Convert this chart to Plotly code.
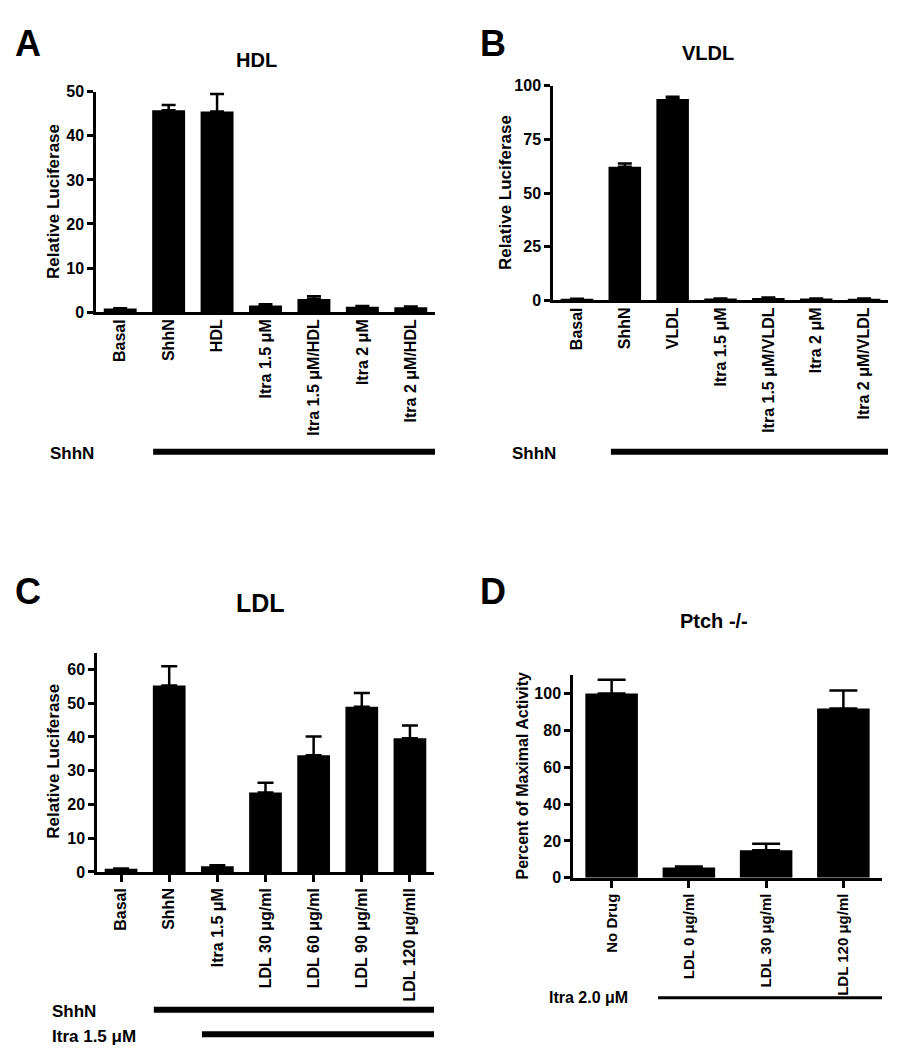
import plotly.graph_objects as go

# ---------------- data ----------------
a_cats = ["Basal", "ShhN", "HDL", "Itra 1.5 μM", "Itra 1.5 μM/HDL", "Itra 2 μM", "Itra 2 μM/HDL"]
a_vals = [0.8, 45.8, 45.5, 1.5, 3.0, 1.2, 1.1]
a_errs = [0.1, 1.2, 4.0, 0.3, 0.6, 0.2, 0.2]

b_cats = ["Basal", "ShhN", "VLDL", "Itra 1.5 μM", "Itra 1.5 μM/VLDL", "Itra 2 μM", "Itra 2 μM/VLDL"]
b_vals = [0.6, 62.3, 93.9, 0.8, 1.1, 0.8, 0.7]
b_errs = [0.1, 1.5, 1.0, 0.1, 0.2, 0.1, 0.1]

c_cats = ["Basal", "ShhN", "Itra 1.5 μM", "LDL 30 μg/ml", "LDL 60 μg/ml", "LDL 90 μg/ml", "LDL 120 μg/mll"]
c_vals = [0.9, 55.2, 1.7, 23.5, 34.6, 48.9, 39.6]
c_errs = [0.1, 5.7, 0.3, 2.9, 5.5, 4.1, 3.8]

d_cats = ["No Drug", "LDL 0 μg/ml", "LDL 30 μg/ml", "LDL 120 μg/ml"]
d_vals = [100, 5.6, 14.9, 91.9]
d_errs = [7.5, 0.6, 3.6, 9.8]

W, H = 899, 1050
FONT = "Liberation Sans, Arial, sans-serif"


def px_x(p):
    return p / W


def px_y(p):
    return 1 - p / H


fig = go.Figure()

panels = [
    # cats, vals, errs, xaxis, yaxis, capwidth
    (a_cats, a_vals, a_errs, "x", "y", 7),
    (b_cats, b_vals, b_errs, "x2", "y2", 7),
    (c_cats, c_vals, c_errs, "x3", "y3", 8),
    (d_cats, d_vals, d_errs, "x4", "y4", 14),
]
for cats, vals, errs, xa, ya, cw in panels:
    fig.add_trace(go.Bar(
        x=cats, y=vals, xaxis=xa, yaxis=ya, width=0.68,
        marker=dict(color="black", line=dict(width=0)),
        error_y=dict(type="data", array=errs, arrayminus=[0] * len(errs),
                     symmetric=False, color="black", thickness=2.5, width=cw),
        showlegend=False,
    ))

tickfont = dict(family=FONT, size=16, color="black", weight="bold")
xtickfont = dict(family=FONT, size=16, color="black", weight="bold")


def yax(domain, rng, dtick):
    return dict(domain=domain, range=rng, dtick=dtick, showline=True, linewidth=2.5,
                linecolor="black", ticks="outside", ticklen=6, tickwidth=2.5,
                tickcolor="black", showgrid=False, zeroline=False, tickfont=tickfont,
                fixedrange=True)


def xax(domain, ticks):
    return dict(domain=domain, type="category", showline=True, linewidth=2.5,
                linecolor="black", ticks=ticks, ticklen=7, tickwidth=2.5,
                tickcolor="black", tickangle=-90, showgrid=False, zeroline=False,
                tickfont=xtickfont)


xa = xax([px_x(88), px_x(427)], "")
xa.update(anchor="y", range=[-0.5, 6.5], ticklabelstandoff=-2)
ya = yax([px_y(301), px_y(77)], [0, 50], 10)
ya.update(anchor="x")

xb = xax([px_x(545), px_x(880)], "")
xb.update(anchor="y2", range=[-0.5, 6.5], ticklabelstandoff=-2)
yb = yax([px_y(289), px_y(71)], [0, 100], 25)
yb.update(anchor="x2")

xc = xax([px_x(89), px_x(426)], "outside")
xc.update(anchor="y3", range=[-0.5, 6.5])
yc = yax([px_y(870), px_y(647)], [0, 65], 10)
yc.update(anchor="x3")

xd = xax([px_x(565), px_x(874)], "outside")
xd.update(anchor="y4", range=[-0.5, 3.5], tickfont=dict(family=FONT, size=15, color="black", weight="bold"))
yd = yax([px_y(876), px_y(670)], [0, 110], 20)
yd.update(anchor="x4", tickvals=[0, 20, 40, 60, 80, 100])

fig.update_layout(
    width=W, height=H, margin=dict(l=0, r=0, t=0, b=0),
    paper_bgcolor="white", plot_bgcolor="white",
    font=dict(family=FONT, color="black"),
    xaxis=xa, yaxis=ya, xaxis2=xb, yaxis2=yb,
    xaxis3=xc, yaxis3=yc, xaxis4=xd, yaxis4=yd,
    showlegend=False,
)


def text(x, y, s, size, angle=0, xanchor="center"):
    fig.add_annotation(x=px_x(x), y=px_y(y), xref="paper", yref="paper", text=s,
                       showarrow=False, textangle=angle, xanchor=xanchor, yanchor="middle",
                       font=dict(family=FONT, size=size, color="black", weight="bold"))


# panel letters
text(20, 28, "A", 36)
text(485, 28, "B", 36)
text(20, 585, "C", 36)
text(485, 585, "D", 36)

# panel titles
text(248, 45, "HDL", 20)
text(700, 38, "VLDL", 20)
text(252, 597, "LDL", 25)
text(706, 615, "Ptch -/-", 20)

# y axis titles
text(46, 189, "Relative Luciferase", 17, angle=-90)
text(497, 180, "Relative Luciferase", 17, angle=-90)
text(46, 758, "Relative Luciferase", 17, angle=-90)
text(515, 772, "Percent of Maximal Activity", 16, angle=-90)

# treatment bracket labels
text(40, 445, "ShhN", 17, xanchor="left")
text(502, 445, "ShhN", 17, xanchor="left")
text(42, 1012, "ShhN", 17, xanchor="left")
text(42, 1037, "Itra 1.5 μM", 17, xanchor="left")
text(539, 998, "Itra 2.0 μM", 16, xanchor="left")


def bar_line(xref, x0, x1, y, w):
    fig.add_shape(type="line", xref=xref, yref="paper", x0=x0, x1=x1,
                  y0=px_y(y), y1=px_y(y), line=dict(color="black", width=w))


bar_line("x", 0.68, 6.57, 443, 6)
bar_line("x2", 0.71, 6.56, 443, 6)
bar_line("x3", 0.68, 6.58, 1010, 6)
bar_line("x3", 1.68, 6.58, 1035, 6)
bar_line("x4", 0.60, 3.54, 998, 3)

fig.write_html("out.html")
